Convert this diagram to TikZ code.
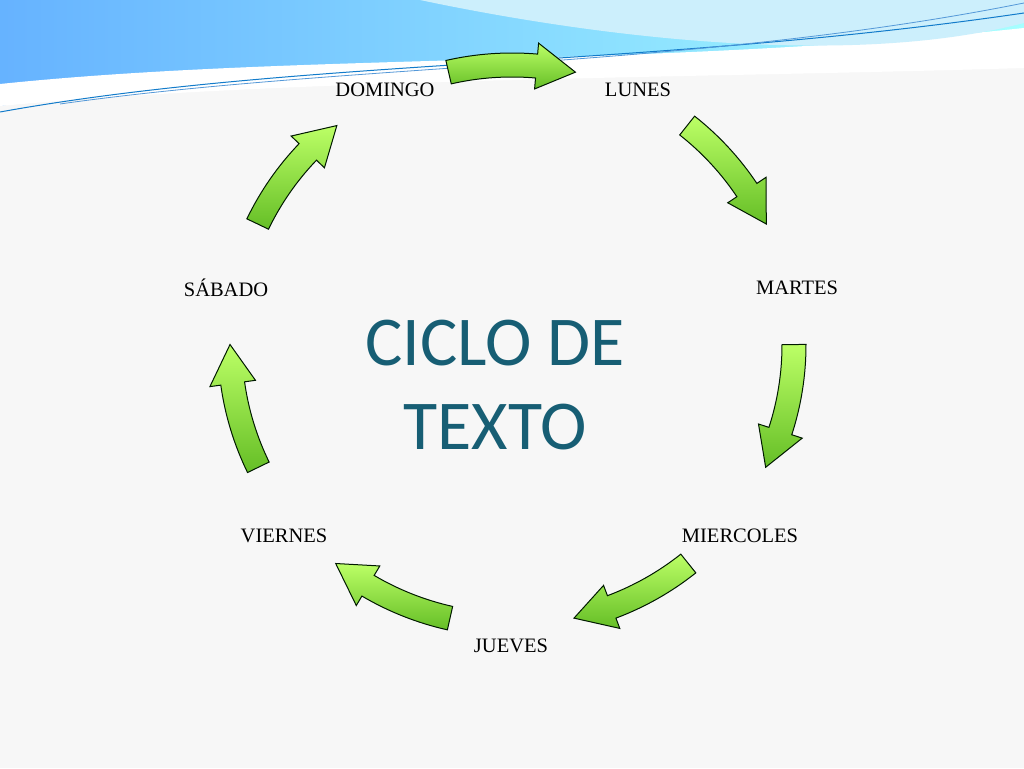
\documentclass[tikz,border=0pt]{standalone}
\usepackage{fontspec}
\setmainfont{Liberation Serif}
\newfontfamily\titlefont{Carlito}
\begin{document}
\begin{tikzpicture}[x=1pt,y=1pt,
  lbl/.style={font=\fontsize{20.5}{24}\selectfont, text=black},
  arr/.style={draw=black!75!green!40!black, line width=1pt, top color=green!25!lime!60!white, bottom color=green!45!lime!70!black!85, shading angle=0},
]
\useasboundingbox (0,0) rectangle (1024,768);
\fill[black!3] (0,0) rectangle (1024,768);
% top waves
\shade[left color=cyan!50!blue!60, right color=cyan!35] (0,768) -- (0,662) .. controls (250,705) and (600,690) .. (1024,705) -- (1024,768) -- cycle;
\fill[white] (0,684) .. controls (300,715) and (650,700) .. (1024,740) -- (1024,700) .. controls (700,690) and (300,690) .. (0,662) -- cycle;
\fill[cyan!20] (420,768) .. controls (600,730) and (850,700) .. (1024,745) -- (1024,768) -- cycle;
\draw[cyan!60!blue, line width=1pt] (0,656) .. controls (300,710) and (650,700) .. (1024,755);
\draw[cyan!60!blue!70, line width=0.8pt] (60,664) .. controls (350,705) and (700,700) .. (1024,765);
\newcommand\cyc[1]{%
 \pgfmathsetmacro\as{#1+13}\pgfmathsetmacro\ah{#1-5}\pgfmathsetmacro\ae{#1-13}%
 \draw[arr] ([shift={(\as:294 and 292)}]512,423) arc[start angle=\as,end angle=\ah,x radius=294,y radius=292]
  -- ([shift={(\ah:305 and 303)}]512,423) -- ([shift={(\ae:282 and 280)}]512,423)
  -- ([shift={(\ah:259 and 257)}]512,423) -- ([shift={(\ah:270 and 268)}]512,423)
  arc[start angle=\ah,end angle=\as,x radius=270,y radius=268] -- cycle;}
\foreach \p in {90,38.6,-12.9,-64.3,-115.7,-167.1,141.4} {\cyc{\p}}
\node[lbl] (dom) at (385,678) {DOMINGO};
\node[lbl] (lun) at (638,678) {LUNES};
\node[lbl] (mar) at (797,480) {MARTES};
\node[lbl] (mie) at (740,232) {MIERCOLES};
\node[lbl] (jue) at (511,122) {JUEVES};
\node[lbl] (vie) at (284,232) {VIERNES};
\node[lbl] (sab) at (226,480) {SÁBADO};
\node[font=\titlefont\fontsize{70}{84}\selectfont, text={rgb,255:red,23;green,94;blue,116}, align=center] (t) at (495,383) {CICLO DE\\TEXTO};
\end{tikzpicture}
\end{document}
